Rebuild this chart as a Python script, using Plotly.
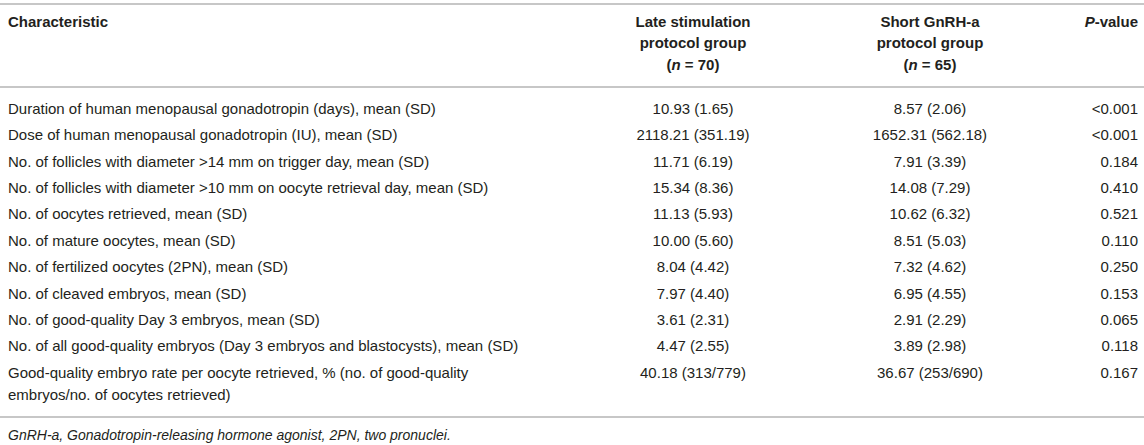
import plotly.graph_objects as go

# table content
characteristics = [
    "Duration of human menopausal gonadotropin (days), mean (SD)",
    "Dose of human menopausal gonadotropin (IU), mean (SD)",
    "No. of follicles with diameter &gt;14 mm on trigger day, mean (SD)",
    "No. of follicles with diameter &gt;10 mm on oocyte retrieval day, mean (SD)",
    "No. of oocytes retrieved, mean (SD)",
    "No. of mature oocytes, mean (SD)",
    "No. of fertilized oocytes (2PN), mean (SD)",
    "No. of cleaved embryos, mean (SD)",
    "No. of good-quality Day 3 embryos, mean (SD)",
    "No. of all good-quality embryos (Day 3 embryos and blastocysts), mean (SD)",
    "Good-quality embryo rate per oocyte retrieved, % (no. of good-quality\nembryos/no. of oocytes retrieved)",
]
late_group = ["10.93 (1.65)", "2118.21 (351.19)", "11.71 (6.19)", "15.34 (8.36)",
              "11.13 (5.93)", "10.00 (5.60)", "8.04 (4.42)", "7.97 (4.40)",
              "3.61 (2.31)", "4.47 (2.55)", "40.18 (313/779)"]
short_group = ["8.57 (2.06)", "1652.31 (562.18)", "7.91 (3.39)", "14.08 (7.29)",
               "10.62 (6.32)", "8.51 (5.03)", "7.32 (4.62)", "6.95 (4.55)",
               "2.91 (2.29)", "3.89 (2.98)", "36.67 (253/690)"]
p_values = ["&lt;0.001", "&lt;0.001", "0.184", "0.410", "0.521", "0.110",
            "0.250", "0.153", "0.065", "0.118", "0.167"]

header_char = ["<b>Characteristic</b>"]
header_late = ["<b>Late stimulation</b>", "<b>protocol group</b>", "<b>(<i>n</i> = 70)</b>"]
header_short = ["<b>Short GnRH-a</b>", "<b>protocol group</b>", "<b>(<i>n</i> = 65)</b>"]
header_p = ["<b><i>P</i>-value</b>"]
footnote = "<i>GnRH-a, Gonadotropin-releasing hormone agonist, 2PN, two pronuclei.</i>"

# layout in pixels
W, H = 1144, 445
FONT = "Liberation Sans, Arial, sans-serif"
SIZE = 15
TEXT = "#231f20"
RULE = "#b4b4b4"
x_char, x_late, x_short, x_p = 8, 693, 930, 1138
head_top, head_gap = 23, 21.5
row_top, row_step, wrap_gap = 110, 26.4, 22
top_rule, head_rule, bottom_rule, foot_y = 4, 87, 417, 436

fig = go.Figure()


def add_text(xs, ys, texts, pos, size=SIZE):
    fig.add_trace(go.Scatter(x=xs, y=ys, text=texts, mode="text", textposition=pos,
                             textfont=dict(family=FONT, size=size, color=TEXT),
                             hoverinfo="skip", showlegend=False))


# header
for col_x, lines, pos in [(x_char, header_char, "middle right"),
                          (x_late, header_late, "middle center"),
                          (x_short, header_short, "middle center"),
                          (x_p, header_p, "middle left")]:
    ys = [head_top + k * head_gap for k in range(len(lines))]
    add_text([col_x] * len(lines), ys, lines, pos)

# body rows
row_y = [row_top + i * row_step for i in range(len(characteristics))]
cx, cy, ct = [], [], []
for y, label in zip(row_y, characteristics):
    for k, part in enumerate(label.split("\n")):
        cx.append(x_char)
        cy.append(y + k * wrap_gap)
        ct.append(part)
add_text(cx, cy, ct, "middle right")
add_text([x_late] * len(row_y), row_y, late_group, "middle center")
add_text([x_short] * len(row_y), row_y, short_group, "middle center")
add_text([x_p] * len(row_y), row_y, p_values, "middle left")

# footnote
add_text([x_char], [foot_y], [footnote], "middle right", size=14)

for y in (top_rule, head_rule, bottom_rule):
    fig.add_shape(type="line", xref="x", yref="y", x0=0, x1=W, y0=y, y1=y,
                  line=dict(color=RULE, width=1.5))

fig.update_layout(
    width=W, height=H,
    margin=dict(l=0, r=0, t=0, b=0),
    paper_bgcolor="white", plot_bgcolor="white",
    xaxis=dict(range=[0, W], visible=False, fixedrange=True),
    yaxis=dict(range=[H, 0], visible=False, fixedrange=True),
)

# page body has a default 8px margin; drop it so the table sits at the window edge
fig.write_html("out.html", config={"displayModeBar": False},
               post_script="document.body.style.margin='0px';")
